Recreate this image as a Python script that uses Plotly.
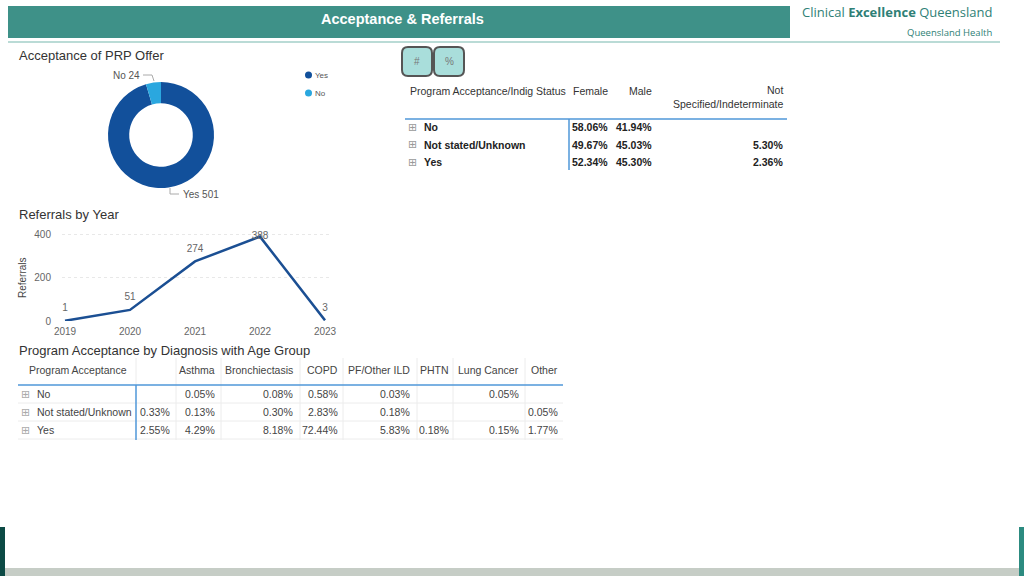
import plotly.graph_objects as go

W, H = 1024, 576
BASE = "Liberation Sans, Arial, sans-serif"

# ---- data ----
accept_labels = ["Yes", "No"]
accept_counts = [501, 24]
accept_colors = ["#12509b", "#2aa7df"]

years = [2019, 2020, 2021, 2022, 2023]
referrals = [1, 51, 274, 388, 3]

indig_rows = ["No", "Not stated/Unknown", "Yes"]
indig_cols = ["Female", "Male", "Not<br>Specified/Indeterminate"]
indig_values = [
    [58.06, 41.94, None],
    [49.67, 45.03, 5.30],
    [52.34, 45.30, 2.36],
]

diag_rows = ["No", "Not stated/Unknown", "Yes"]
diag_cols = ["", "Asthma", "Bronchiectasis", "COPD", "PF/Other ILD", "PHTN", "Lung Cancer", "Other"]
diag_values = [
    [None, 0.05, 0.08, 0.58, 0.03, None, 0.05, None],
    [0.33, 0.13, 0.30, 2.83, 0.18, None, None, 0.05],
    [2.55, 4.29, 8.18, 72.44, 5.83, 0.18, 0.15, 1.77],
]


def xp(x):
    return x / W


def yp(y):
    return 1 - y / H


shapes = []
anns = []


def text(x, y, s, size=10.5, color="#444", anchor="left", bold=False, family=BASE, align="left"):
    anns.append(dict(x=xp(x), y=yp(y), xref="paper", yref="paper", showarrow=False,
                     text=f"<b>{s}</b>" if bold else s, xanchor=anchor, yanchor="middle", align=align,
                     borderpad=0, font=dict(size=size, color=color, family=family)))


def line(x0, y0, x1, y1, color, width=1):
    shapes.append(dict(type="line", xref="paper", yref="paper", x0=xp(x0), y0=yp(y0), x1=xp(x1), y1=yp(y1),
                       line=dict(color=color, width=width)))


def rect(x0, y0, x1, y1, fill):
    shapes.append(dict(type="rect", xref="paper", yref="paper", x0=xp(x0), y0=yp(y0), x1=xp(x1), y1=yp(y1),
                       fillcolor=fill, line=dict(width=0), layer="below"))


def rounded(x0, y0, x1, y1, r, fill, border):
    # rounded rectangle path in paper units
    rx, ry = r / W, r / H
    a, b, c, d = xp(x0), xp(x1), yp(y1), yp(y0)
    p = (f"M {a+rx},{c} L {b-rx},{c} Q {b},{c} {b},{c+ry} L {b},{d-ry} Q {b},{d} {b-rx},{d} "
         f"L {a+rx},{d} Q {a},{d} {a},{d-ry} L {a},{c+ry} Q {a},{c} {a+rx},{c} Z")
    shapes.append(dict(type="path", xref="paper", yref="paper", path=p, fillcolor=fill,
                       line=dict(color=border, width=2)))


def pct(v):
    return "" if v is None else f"{v:.2f}%"


# ---- header ----
rect(8, 6, 790, 38, "#3e9188")
text(402, 19, "Acceptance & Referrals", size=14.5, color="white", anchor="center", bold=True)
text(993, 12, "Clinical <b>Excellence</b> Queensland", size=13, color="#2f7f76", anchor="right",
     family="Open Sans, sans-serif")
text(993, 33, "Queensland Health", size=9.5, color="#2f7f76", anchor="right", family="Open Sans, sans-serif")
line(8, 42, 1000, 42, "#a3cfc8", 1.5)

# ---- footer decorations ----
rect(0, 527, 5, 576, "#0c4a45")
rect(1019, 527, 1024, 576, "#2c8b80")
rect(5, 568, 1019, 576, "#c6cdc6")

# ---- section titles ----
text(18, 55, "Acceptance of PRP Offer", size=13, color="#333")
text(18, 215, "Referrals by Year", size=13, color="#333")
text(18, 350, "Program Acceptance by Diagnosis with Age Group", size=13, color="#333")

# ---- donut labels and legend ----
text(141, 76, f"{accept_labels[1]} {accept_counts[1]}", size=10, color="#555", anchor="right")
text(182, 194, f"{accept_labels[0]} {accept_counts[0]}", size=10, color="#555")
shapes.append(dict(type="path", xref="paper", yref="paper", line=dict(color="#aaa", width=1),
                   path=f"M {xp(143)},{yp(75)} L {xp(152)},{yp(75)} L {xp(154)},{yp(81)}"))
shapes.append(dict(type="path", xref="paper", yref="paper", line=dict(color="#aaa", width=1),
                   path=f"M {xp(170)},{yp(188)} L {xp(170)},{yp(194)} L {xp(179)},{yp(194)}"))
for i, (lab, col) in enumerate(zip(accept_labels, accept_colors)):
    cy = 75 + i * 18
    shapes.append(dict(type="circle", xref="paper", yref="paper", x0=xp(305), x1=xp(312),
                       y0=yp(cy + 3.5), y1=yp(cy - 3.5), fillcolor=col, line=dict(width=0)))
    text(314, cy, lab, size=8, color="#555")

# ---- buttons ----
rounded(402, 47, 432, 76, 6, "#a9dedb", "#555")
rounded(434, 47, 464, 76, 6, "#a9dedb", "#555")
text(417, 61, "#", size=10, color="#777", anchor="center")
text(449, 61, "%", size=10, color="#777", anchor="center")

# ---- table 1: indigenous status ----
t1_right = [609, 653, 784]
text(409, 91, "Program Acceptance/Indig Status", color="#333")
for name, xr in zip(indig_cols, t1_right):
    yy = 97 if "<br>" in name else 91
    text(xr, yy, name, color="#333", anchor="right", align="right")
line(405, 119, 787, 119, "#4f97d8", 1.5)
line(569, 119, 569, 170, "#4f97d8", 1.5)
for i, (row, vals) in enumerate(zip(indig_rows, indig_values)):
    ry = 127 + i * 17.5
    text(412, ry, "⊞", size=11, color="#999", anchor="center", family="DejaVu Sans")
    text(423, ry, row, color="#222", bold=True)
    for v, xr in zip(vals, t1_right):
        text(xr, ry, pct(v), color="#222", anchor="right", bold=True)

# ---- table 2: diagnosis ----
t2_right = [171, 216, 294, 339, 411, 450, 520, 559]
t2_seps = [136, 176, 221, 300, 343, 417, 453, 525]
for xs in t2_seps:
    line(xs, 358, xs, 385, "#ececec", 1)
    if xs != 136:
        line(xs, 385, xs, 440, "#ececec", 1)
for yy in [403, 421, 439]:
    line(18, yy, 563, yy, "#ececec", 1)
text(28, 370, "Program Acceptance", color="#444")
for name, xr in zip(diag_cols, t2_right):
    text(xr, 370, name, color="#444", anchor="right")
line(18, 385, 563, 385, "#4f97d8", 1.5)
line(136, 385, 136, 440, "#4f97d8", 1.5)
for i, (row, vals) in enumerate(zip(diag_rows, diag_values)):
    ry = 394 + i * 18
    text(25, ry, "⊞", size=11, color="#aaa", anchor="center", family="DejaVu Sans")
    text(36, ry, row, color="#444")
    for v, xr in zip(vals, t2_right):
        text(xr, ry, pct(v), color="#444", anchor="right")

# ---- figure ----
fig = go.Figure()
fig.add_trace(go.Pie(
    labels=accept_labels, values=accept_counts, hole=0.6, sort=False, direction="clockwise", rotation=0,
    marker=dict(colors=accept_colors, line=dict(width=0)), textinfo="none", showlegend=False,
    domain=dict(x=[xp(108), xp(214)], y=[yp(188), yp(82)]), hoverinfo="label+value",
))
fig.add_trace(go.Scatter(
    x=years, y=referrals, mode="lines+markers+text", text=[str(v) for v in referrals],
    textposition=["top center", "top center", "top center", "middle center", "top center"],
    textfont=dict(size=10, color="#666", family=BASE), cliponaxis=False,
    marker=dict(size=10, opacity=0),
    line=dict(color="#1b4f93", width=2.5), showlegend=False,
))

x_px0, x_px1 = 62, 330
fig.update_layout(
    width=W, height=H, margin=dict(l=0, r=0, t=0, b=0, autoexpand=False),
    paper_bgcolor="white", plot_bgcolor="white",
    font=dict(family=BASE),
    xaxis=dict(domain=[xp(x_px0), xp(x_px1)], automargin=False,
               range=[2019 - (65 - x_px0) / 65, 2019 + (x_px1 - 65) / 65],
               tickvals=years, showgrid=False, zeroline=False, showline=False, ticklabelstandoff=3,
               tickfont=dict(size=10, color="#666")),
    yaxis=dict(domain=[yp(321), yp(230)], range=[0, (321 - 230) / (87 / 400)], automargin=False,
               tickvals=[0, 200, 400], showgrid=True, gridcolor="#e8e8e8", griddash="dot",
               zeroline=False, showline=False, ticklabelstandoff=10,
               tickfont=dict(size=10, color="#666")),
    shapes=shapes,
    annotations=anns + [dict(x=xp(22), y=yp(278), xref="paper", yref="paper", text="Referrals",
                             xanchor="center", yanchor="middle", textangle=-90, showarrow=False,
                             font=dict(size=10, color="#444"))],
)

# page body has a default 8px margin; drop it so the figure fills the window
fig.write_html("out.html", config={"displayModeBar": False},
               post_script="document.body.style.margin = '0';")
